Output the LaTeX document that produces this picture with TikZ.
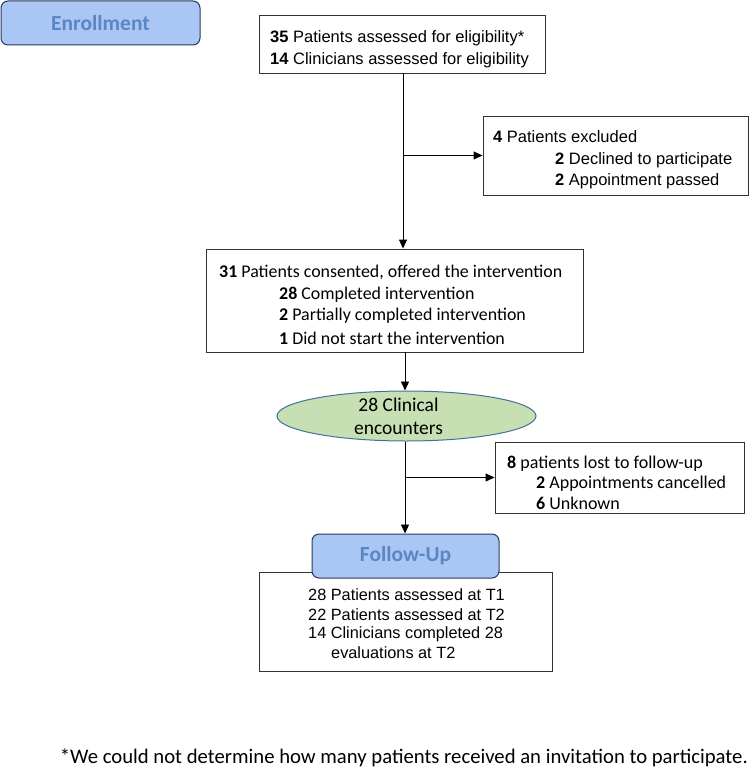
\documentclass[tikz,border=0pt]{standalone}
\usepackage{fontspec}
\setmainfont{Liberation Sans}
\newfontfamily\calib{Carlito}
\usetikzlibrary{arrows.meta,shapes.geometric}
\definecolor{hdrfill}{HTML}{A9C6F5}
\definecolor{hdrtext}{HTML}{5A86C2}
\definecolor{hdrline}{HTML}{2B3A55}
\definecolor{ellfill}{HTML}{C6DFB3}
\definecolor{ellline}{HTML}{41719C}
\tikzset{
  box/.style={draw=black!80, line width=0.9pt, rectangle, inner sep=0pt},
  hdr/.style={draw=hdrline, fill=hdrfill, line width=1pt, rounded corners=7pt, inner sep=0pt,
     text=hdrtext, font=\calib\fontsize{21.5}{24}\selectfont\bfseries},
  txt/.style={anchor=west, inner sep=0pt},
  arialtxt/.style={txt, font=\fontsize{16.5}{19}\selectfont},
  calibtxt/.style={txt, font=\calib\fontsize{17.9}{20}\selectfont},
  losttxt/.style={txt, font=\calib\fontsize{18}{20}\selectfont},
  bottxt/.style={txt, font=\fontsize{16.3}{19}\selectfont},
  arr/.style={line width=0.9pt, -{Triangle[length=9pt,width=8pt]}},
  ln/.style={line width=0.9pt},
}
\begin{document}
\begin{tikzpicture}[x=1pt,y=-1pt]
\useasboundingbox (0,0) rectangle (750,768);
% header Enrollment
\node[hdr, minimum width=199pt, minimum height=44pt] (enr) at (100.5,23) {Enrollment};
% top box
\node[box, minimum width=286pt, minimum height=58pt] (top) at (402,44) {};
\node[arialtxt] (t1) at (270,38) {\textbf{35} Patients assessed for eligibility*};
\node[arialtxt] (t2) at (270,60) {\textbf{14} Clinicians assessed for eligibility};
% excluded box
\node[box, minimum width=265pt, minimum height=79pt] (exc) at (615.5,155.5) {};
\node[arialtxt] (e1) at (493,137) {\textbf{4} Patients excluded};
\node[arialtxt] (e2) at (555,160) {\textbf{2} Declined to participate};
\node[arialtxt] (e3) at (555,181) {\textbf{2} Appointment passed};
% consented box
\node[box, minimum width=377pt, minimum height=103pt] (con) at (394.5,300.5) {};
\node[calibtxt] (c1) at (219,272) {\textbf{31} Patients consented, offered the intervention};
\node[calibtxt] (c2) at (279,295) {\textbf{28} Completed intervention};
\node[calibtxt] (c3) at (279,316) {\textbf{2} Partially completed intervention};
\node[calibtxt] (c4) at (279,338) {\textbf{1} Did not start the intervention};
% ellipse
\node[ellipse, draw=ellline, fill=ellfill, line width=1pt, minimum width=259pt, minimum height=50pt, inner sep=0pt] (ell) at (406.5,416) {};
\node[inner sep=0pt, font=\calib\fontsize{19.5}{23}\selectfont, align=center] (elltxt) at (398.5,416) {28 Clinical\\encounters};
% lost box
\node[box, minimum width=249pt, minimum height=71pt] (lost) at (619.5,477.5) {};
\node[losttxt] (l1) at (507,464) {\textbf{8} patients lost to follow-up};
\node[losttxt] (l2) at (536,484) {\textbf{2} Appointments cancelled};
\node[losttxt] (l3) at (536,503) {\textbf{6} Unknown};
% bottom box
\node[box, minimum width=293pt, minimum height=99pt] (bot) at (405.5,621.5) {};
\node[bottxt] (b1) at (308,595) {28 Patients assessed at T1};
\node[bottxt] (b2) at (308,615) {22 Patients assessed at T2};
\node[bottxt] (b3) at (308,634) {14 Clinicians completed 28};
\node[bottxt] (b4) at (331,653) {evaluations at T2};
% follow-up header
\node[hdr, minimum width=187pt, minimum height=44pt] (fu) at (405.5,556) {Follow-Up};
% footnote
\node[anchor=east, inner sep=0pt, font=\calib\fontsize{20.7}{24}\selectfont] (foot) at (748,758) {*We could not determine how many patients received an invitation to participate.};
% connectors
\coordinate (s1) at (403,73);
\coordinate (br1) at (403,155.5);
\draw[ln] (top.south -| s1) -- (br1);
\draw[arr] (br1) -- (con.north -| br1);
\draw[arr] (br1) -- (exc.west);
\coordinate (s2) at (405,352);
\draw[arr] (con.south -| s2) -- (ell.north -| s2);
\coordinate (br2) at (405,477.5);
\draw[ln] (ell.south -| br2) -- (br2);
\draw[arr] (br2) -- (lost.west);
\draw[arr] (br2) -- (fu.north -| br2);
\end{tikzpicture}
\end{document}
